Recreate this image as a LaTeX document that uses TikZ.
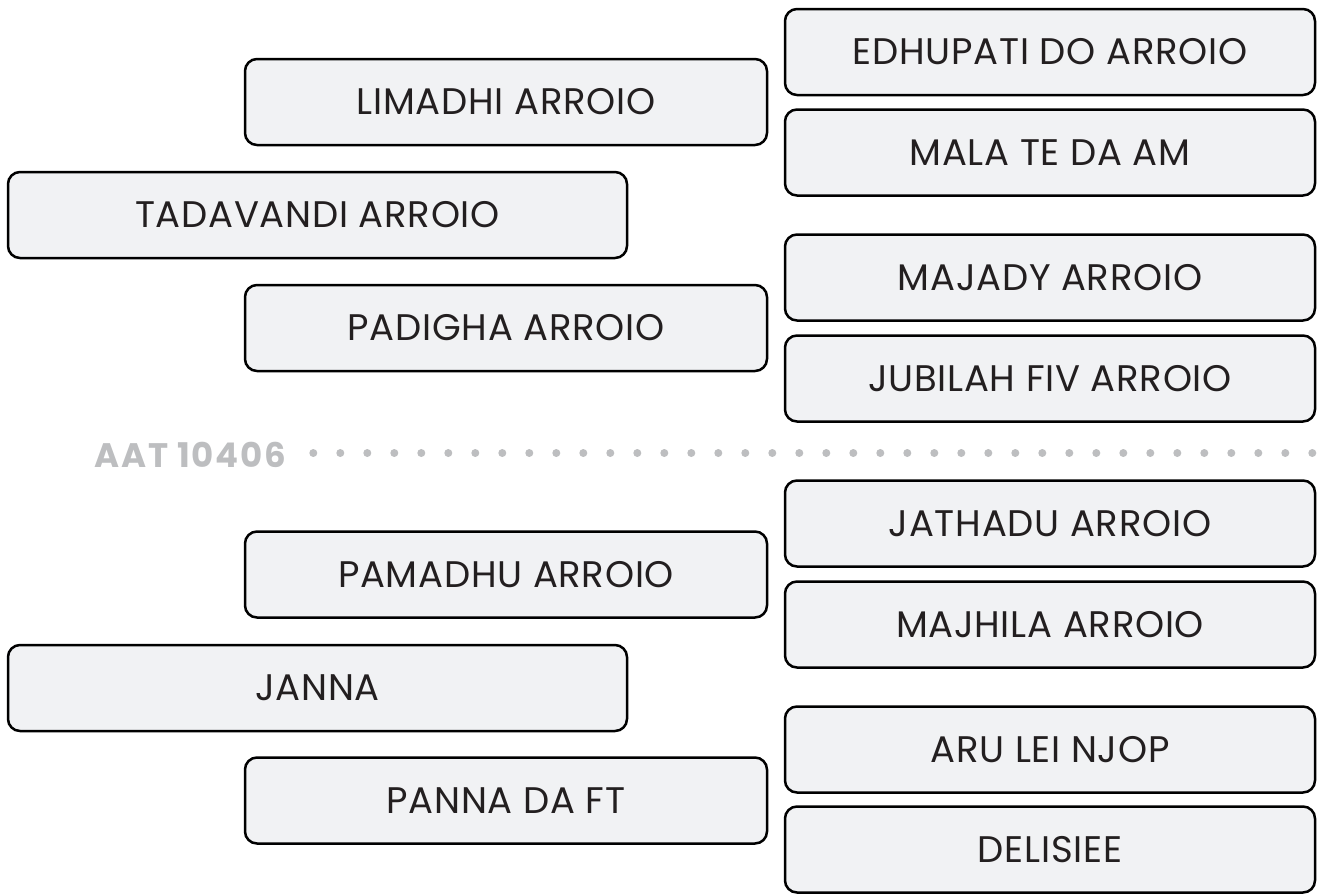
\documentclass[tikz,border=0pt]{standalone}
\usepackage{fontspec}
\setmainfont{Poppins}
\newfontfamily\labelfont[LetterSpace=2]{Poppins}
\newfontfamily\sepfont[LetterSpace=5]{Poppins}
\definecolor{boxfill}{HTML}{F1F2F4}
\definecolor{boxtext}{HTML}{231F20}
\definecolor{sepgray}{HTML}{BDBEC0}
\begin{document}
\begin{tikzpicture}[x=1pt,y=-1pt,
  itembox/.style={draw=black, line width=2.5pt, fill=boxfill, rounded corners=12pt,
    minimum height=86pt, inner sep=0pt, text=boxtext, font=\labelfont\fontsize{37}{42}\selectfont},
  rightbox/.style={itembox, minimum width=530pt},
  innerbox/.style={itembox, minimum width=522pt},
  outerbox/.style={itembox, minimum width=619pt},
  sepdot/.style={fill=sepgray, draw=none, circle, minimum size=8pt, inner sep=0pt}]
\useasboundingbox (0,0) rectangle (1319,894);
% right column
\node[rightbox] (edhupati) at (1050,52)    {EDHUPATI DO ARROIO};
\node[rightbox] (mala)     at (1050,152.5) {MALA TE DA AM};
\node[rightbox] (majady)   at (1050,277.5) {MAJADY ARROIO};
\node[rightbox] (jubilah)  at (1050,378.5) {JUBILAH FIV ARROIO};
\node[rightbox] (jathadu)  at (1050,523.5) {JATHADU ARROIO};
\node[rightbox] (majhila)  at (1050,624.5) {MAJHILA ARROIO};
\node[rightbox] (arulei)   at (1050,749.5) {ARU LEI NJOP};
\node[rightbox] (delisiee) at (1050,849.5) {DELISIEE};
% left column
\node[innerbox] (limadhi)   at (506,102)   {LIMADHI ARROIO};
\node[outerbox] (tadavandi) at (317.5,215) {TADAVANDI ARROIO};
\node[innerbox] (padigha)   at (506,328)   {PADIGHA ARROIO};
\node[innerbox] (pamadhu)   at (506,574.5) {PAMADHU ARROIO};
\node[outerbox] (janna)     at (317.5,688) {JANNA};
\node[innerbox] (panna)     at (506,800.5) {PANNA DA FT};
% separator
\node[anchor=east, text=sepgray, inner sep=0pt, font=\sepfont\fontsize{34}{38}\bfseries\selectfont] (aat) at (286,455) {AAT 10406};
\foreach \i in {0,...,37} {
  \node[sepdot] (dot\i) at ({313.3+27*\i},453) {};
}
\end{tikzpicture}
\end{document}
